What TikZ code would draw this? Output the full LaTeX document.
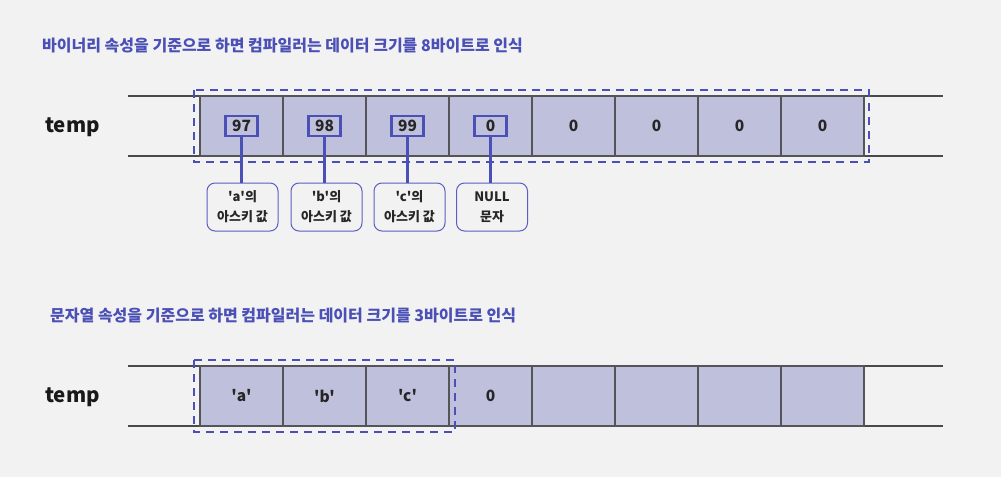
\documentclass[tikz,border=0pt]{standalone}
\usepackage{fontspec}
\setmainfont{Noto Sans CJK KR}[Ligatures=TeXOff]
\usetikzlibrary{positioning,calc}

\definecolor{bgcol}{HTML}{F2F2F2}
\definecolor{cellcol}{HTML}{BFC0DC}
\definecolor{bluecol}{HTML}{4A50B5}
\definecolor{notecol}{HTML}{5A60C0}
\definecolor{linecol}{HTML}{555559}
\definecolor{railcol}{HTML}{4A4A4A}

\tikzset{
    cell/.style={draw=linecol, line width=1.5pt, fill=cellcol, minimum width=83pt, minimum height=60pt, inner sep=0pt, font=\bfseries\fontsize{15.5}{15.5}\selectfont, text=black!85},
    valbox/.style={draw=bluecol, line width=2.5pt, minimum width=32pt, minimum height=20pt, inner sep=0pt, font=\bfseries\fontsize{15.5}{15.5}\selectfont, text=black!85},
    note/.style={draw=notecol, line width=1pt, rounded corners=8pt, minimum width=71pt, minimum height=48pt, inner sep=0pt, align=center, font=\bfseries\fontsize{13}{20}\selectfont, text=black!85},
    heading/.style={anchor=west, inner sep=0pt, text=bluecol, font=\bfseries\fontsize{16}{16}\selectfont},
    varname/.style={anchor=west, inner sep=0pt, text=black!90, font=\bfseries\fontsize{20.5}{20.5}\selectfont},
    rail/.style={draw=railcol, line width=1.2pt},
    selbox/.style={draw=bluecol, line width=2.5pt, dash pattern=on 8pt off 6pt},
    link/.style={draw=bluecol, line width=2.5pt}
}

\begin{document}
\begin{tikzpicture}[x=1pt, y=-1pt]
    \fill[bgcol] (0,0) rectangle (1001,477);
    \useasboundingbox (0,0) rectangle (1001,477);

    % binary view
    \node[heading] (title1) at (42,46) {바이너리 속성을 기준으로 하면 컴파일러는 데이터 크기를 8바이트로 인식};
    \node[varname] (var1) at (45,127) {temp};
    \draw[rail] (128,96) -- (943,96);
    \draw[rail] (128,156) -- (943,156);
    \foreach \i in {1,...,8}
        \node[cell] (top\i) at ({200+83*(\i-0.5)},126) {};
    \foreach \i/\v in {1/97,2/98,3/99,4/0}
        \node[valbox] (val\i) at (top\i) {\v};
    \foreach \i in {5,...,8}
        \node at (top\i) [font=\bfseries\fontsize{15.5}{15.5}\selectfont, text=black!85] {0};
    \draw[selbox] (194,90) rectangle (869,162);

    % notes
    \node[note] (note1) at (242.5,207) {'a'의\\아스키 값};
    \node[note] (note2) at (326.5,207) {'b'의\\아스키 값};
    \node[note] (note3) at (409.5,207) {'c'의\\아스키 값};
    \node[note] (note4) at (492,207) {NULL\\문자};
    \foreach \i in {1,...,4}
        \draw[link] (val\i.south) -- (val\i.south |- note\i.north);

    % string view
    \node[heading] (title2) at (50,316) {문자열 속성을 기준으로 하면 컴파일러는 데이터 크기를 3바이트로 인식};
    \node[varname] (var2) at (45,397) {temp};
    \draw[rail] (128,366) -- (943,366);
    \draw[rail] (128,426) -- (943,426);
    \foreach \i/\v in {1/'a',2/'b',3/'c',4/0,5/{},6/{},7/{},8/{}}
        \node[cell] (bot\i) at ({200+83*(\i-0.5)},396) {\v};
    \draw[selbox] (194,360) rectangle (455,432);
\end{tikzpicture}
\end{document}
